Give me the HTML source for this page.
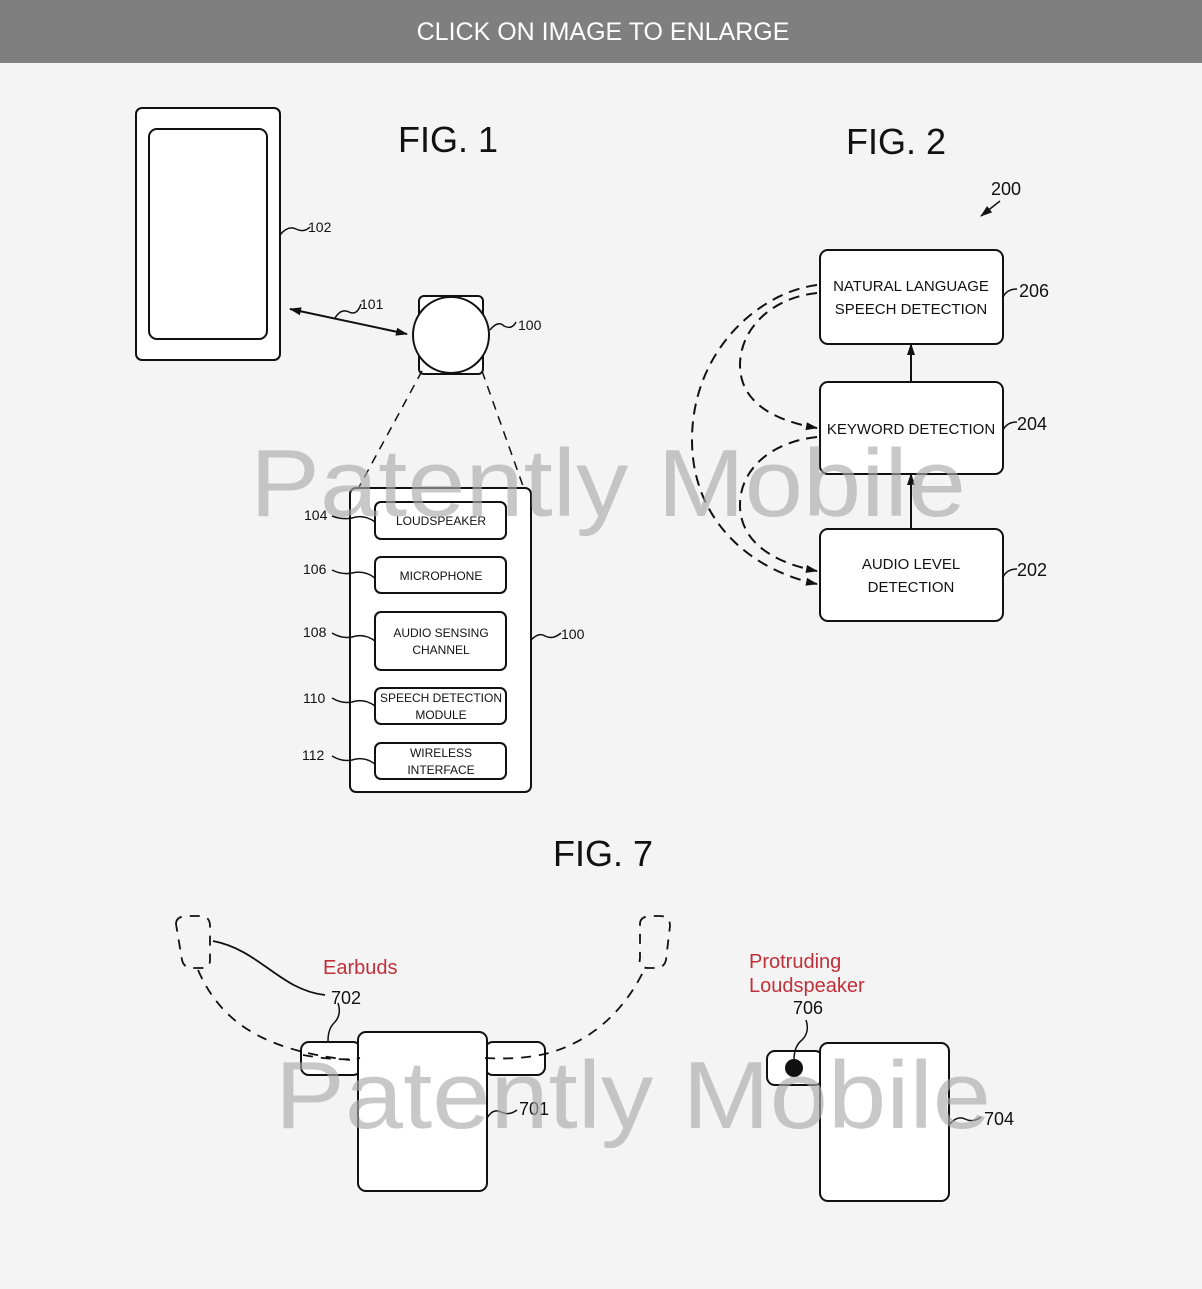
<!DOCTYPE html>
<html><head><style>
body{margin:0;background:#f4f4f4;}
svg{display:block;font-family:"Liberation Sans",sans-serif;}
</style></head><body>
<svg width="1202" height="1289" viewBox="0 0 1202 1289" xmlns="http://www.w3.org/2000/svg">
<defs>
<marker id="ah" markerWidth="12" markerHeight="10" refX="11" refY="5" orient="auto" markerUnits="userSpaceOnUse"><path d="M0,1 L12,5 L0,9 Z" fill="#111"/></marker>
<marker id="ah2" markerWidth="12" markerHeight="10" refX="11" refY="5" orient="auto-start-reverse" markerUnits="userSpaceOnUse"><path d="M0,1 L12,5 L0,9 Z" fill="#111"/></marker>
</defs>
<rect x="0" y="0" width="1202" height="1289" fill="#f4f4f4"/>
<rect x="0" y="0" width="1202" height="63" fill="#7f7f7f"/>
<text x="603" y="40" text-anchor="middle" fill="#fff" font-size="25">CLICK ON IMAGE TO ENLARGE</text>

<g fill="none" stroke="#111" stroke-width="2">
<rect x="136" y="108" width="144" height="252" rx="6" fill="#fff"/>
<rect x="149" y="129" width="118" height="210" rx="8" fill="#fff"/>
<path d="M280,235 q8,-10 16,-6 q8,4 14,-2" stroke-width="1.5"/>
<line x1="290" y1="309" x2="407" y2="334" marker-start="url(#ah2)" marker-end="url(#ah)"/>
<path d="M335,318 q6,-10 14,-6 q8,4 12,-8" stroke-width="1.5"/>
<rect x="419" y="296" width="64" height="78" rx="5" fill="#fff"/>
<circle cx="451" cy="335" r="38" fill="#fff"/>
<path d="M490,330 q8,-10 14,-4 q8,4 12,-4" stroke-width="1.5"/>
<line x1="422" y1="371" x2="352" y2="500" stroke-dasharray="9,7" stroke-width="1.5"/>
<line x1="482" y1="371" x2="528" y2="500" stroke-dasharray="9,7" stroke-width="1.5"/>
<rect x="350" y="488" width="181" height="304" rx="6" fill="#fff"/>
<rect x="375" y="502" width="131" height="37" rx="6" fill="#fff"/>
<rect x="375" y="557" width="131" height="36" rx="6" fill="#fff"/>
<rect x="375" y="612" width="131" height="58" rx="6" fill="#fff"/>
<rect x="375" y="688" width="131" height="36" rx="6" fill="#fff"/>
<rect x="375" y="743" width="131" height="36" rx="6" fill="#fff"/>
<g stroke-width="1.5">
<path d="M332,516 q10,4 20,2 q12,-4 23,4"/>
<path d="M332,570 q10,5 20,3 q12,-3 23,5"/>
<path d="M332,633 q10,6 20,4 q12,-4 23,4"/>
<path d="M332,698 q10,6 20,4 q12,-4 23,4"/>
<path d="M332,756 q10,6 20,4 q12,-4 23,4"/>
<path d="M531,640 q8,-8 14,-4 q8,4 16,-3"/>
</g>
<rect x="820" y="250" width="183" height="94" rx="8" fill="#fff"/>
<rect x="820" y="382" width="183" height="92" rx="8" fill="#fff"/>
<rect x="820" y="529" width="183" height="92" rx="8" fill="#fff"/>
<line x1="911" y1="382" x2="911" y2="344" marker-end="url(#ah)"/>
<line x1="911" y1="529" x2="911" y2="474" marker-end="url(#ah)"/>
<g stroke-dasharray="11,7">
<path d="M817,285 C760,292 692,350 692,440 C692,520 750,570 817,584" marker-end="url(#ah)"/>
<path d="M817,293 C770,298 740,330 740,365 C740,400 770,420 817,428" marker-end="url(#ah)"/>
<path d="M817,437 C770,442 740,470 740,505 C740,540 770,562 817,571" marker-end="url(#ah)"/>
</g>
<path d="M1003,297 q4,-8 14,-8" stroke-width="1.5"/>
<path d="M1003,430 q4,-8 14,-8" stroke-width="1.5"/>
<path d="M1003,577 q4,-8 14,-8" stroke-width="1.5"/>
<line x1="1000" y1="201" x2="981" y2="216" marker-end="url(#ah)" stroke-width="1.5"/>
<path d="M176,924 q0,-8 12,-8 h12 q10,0 10,10 v34 q0,8 -8,8 h-10 q-8,0 -10,-8 z" stroke-dasharray="10,8" stroke-width="1.8"/>
<path d="M640,924 q0,-8 12,-8 h8 q10,0 10,10 l-4,34 q-2,8 -10,8 h-8 q-10,0 -8,-10 z" stroke-dasharray="10,8" stroke-width="1.8"/>
<path d="M213,941 C260,950 280,990 325,995" stroke-width="1.8"/>
<rect x="301" y="1042" width="60" height="33" rx="8" fill="#fff"/>
<rect x="485" y="1042" width="60" height="33" rx="8" fill="#fff"/>
<rect x="358" y="1032" width="129" height="159" rx="8" fill="#fff"/>
<path d="M198,970 C220,1020 260,1050 350,1060" stroke-dasharray="10,8" stroke-width="1.8"/>
<path d="M303,1055 C330,1060 350,1060 360,1058" stroke-dasharray="10,8" stroke-width="1.8"/>
<path d="M485,1058 C520,1060 540,1055 545,1054 C600,1040 630,1000 645,968" stroke-dasharray="10,8" stroke-width="1.8"/>
<path d="M328,1041 q0,-12 6,-18 q8,-8 4,-20" stroke-width="1.5"/>
<path d="M487,1118 q6,-10 14,-6 q8,4 16,-2" stroke-width="1.5"/>
<rect x="767" y="1051" width="56" height="34" rx="8" fill="#fff"/>
<rect x="820" y="1043" width="129" height="158" rx="8" fill="#fff"/>
<circle cx="794" cy="1068" r="8" fill="#111"/>
<path d="M794,1060 q0,-14 8,-20 q8,-8 4,-20" stroke-width="1.5"/>
<path d="M949,1125 q8,-10 16,-6 q8,4 16,-2" stroke-width="1.5"/>
</g>

<g fill="#111">
<text x="448" y="152" text-anchor="middle" font-size="36">FIG. 1</text>
<text x="896" y="154" text-anchor="middle" font-size="36">FIG. 2</text>
<text x="603" y="866" text-anchor="middle" font-size="36">FIG. 7</text>
<g font-size="14">
<text x="308" y="232">102</text><text x="360" y="309">101</text><text x="518" y="330">100</text>
<text x="304" y="520">104</text><text x="303" y="574">106</text><text x="303" y="637">108</text>
<text x="303" y="703">110</text><text x="302" y="760">112</text><text x="561" y="639">100</text>
</g>
<g font-size="12" text-anchor="middle">
<text x="441" y="525">LOUDSPEAKER</text>
<text x="441" y="580">MICROPHONE</text>
<text x="441" y="637">AUDIO SENSING</text><text x="441" y="654">CHANNEL</text>
<text x="441" y="702">SPEECH DETECTION</text><text x="441" y="719">MODULE</text>
<text x="441" y="757">WIRELESS</text><text x="441" y="774">INTERFACE</text>
</g>
<g font-size="15" text-anchor="middle">
<text x="911" y="291">NATURAL LANGUAGE</text><text x="911" y="314">SPEECH DETECTION</text>
<text x="911" y="434">KEYWORD DETECTION</text>
<text x="911" y="569">AUDIO LEVEL</text><text x="911" y="592">DETECTION</text>
</g>
<g font-size="18">
<text x="991" y="195">200</text><text x="1019" y="297">206</text>
<text x="1017" y="430">204</text><text x="1017" y="576">202</text>
<text x="331" y="1004">702</text><text x="793" y="1014">706</text>
<text x="519" y="1115">701</text><text x="984" y="1125">704</text>
</g>
<g font-size="20" fill="#c0303a">
<text x="323" y="974">Earbuds</text>
<text x="749" y="968">Protruding</text><text x="749" y="992">Loudspeaker</text>
</g>
</g>
<g fill="#aaa" fill-opacity="0.65" font-size="96">
<text x="250" y="516" textLength="716" lengthAdjust="spacingAndGlyphs">Patently Mobile</text>
<text x="275" y="1128" textLength="716" lengthAdjust="spacingAndGlyphs">Patently Mobile</text>
</g>
</svg>
</body></html>
